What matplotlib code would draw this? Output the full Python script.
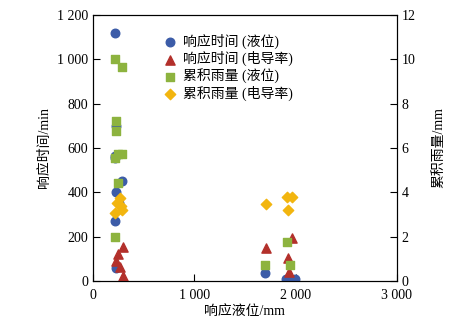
import matplotlib.pyplot as plt
from matplotlib.ticker import FuncFormatter

plt.rcParams['font.family'] = ['Liberation Serif', 'Noto Sans CJK SC']
plt.rcParams['font.size'] = 10

# 响应时间 (液位): 液位 mm, 时间 min
t_lw_x = [215, 225, 220, 215, 290, 225, 260, 215, 230, 1700, 1910, 1950, 1990]
t_lw_y = [1120, 700, 555, 565, 450, 400, 350, 270, 58, 36, 8, 6, 8]

# 响应时间 (电导率)
t_ec_x = [300, 250, 230, 270, 300, 1710, 1960, 1930, 1935]
t_ec_y = [153, 120, 90, 63, 22, 148, 194, 104, 40]

# 累积雨量 (液位): mm
r_lw_x = [220, 290, 230, 230, 220, 250, 290, 250, 220, 1700, 1920, 1950]
r_lw_y = [10.0, 9.65, 7.2, 6.75, 5.55, 5.75, 5.75, 4.4, 2.0, 0.7, 1.75, 0.7]

# 累积雨量 (电导率)
r_ec_x = [270, 240, 290, 220, 280, 1710, 1920, 1960, 1930]
r_ec_y = [3.75, 3.5, 3.2, 3.05, 3.4, 3.47, 3.78, 3.78, 3.2]

blue = '#3c5ca8'
red = '#b3302b'
green = '#8db33f'
yellow = '#f2b50f'

fig = plt.figure(figsize=(4.73, 3.31), dpi=100)
ax = fig.add_axes([0.1966, 0.151, 0.6424, 0.804])
ax2 = ax.twinx()

h1 = ax.scatter(t_lw_x, t_lw_y, s=38, marker='o', color=blue, label='响应时间 (液位)', zorder=3)
h2 = ax.scatter(t_ec_x, t_ec_y, s=44, marker='^', color=red, label='响应时间 (电导率)', zorder=3)
h3 = ax2.scatter(r_lw_x, r_lw_y, s=38, marker='s', color=green, label='累积雨量 (液位)', zorder=3)
h4 = ax2.scatter(r_ec_x, r_ec_y, s=28, marker='D', color=yellow, label='累积雨量 (电导率)', zorder=3)

fmt = FuncFormatter(lambda v, p: f'{int(v):,}'.replace(',', ' '))

ax.set_xlim(0, 3000)
ax.set_ylim(0, 1200)
ax.set_xticks([0, 1000, 2000, 3000])
ax.set_yticks(range(0, 1201, 200))
ax.xaxis.set_major_formatter(fmt)
ax.yaxis.set_major_formatter(fmt)
ax2.set_ylim(0, 12)
ax2.set_yticks(range(0, 13, 2))

ax.tick_params(direction='in', length=5, width=0.8)
ax.tick_params(axis='x', pad=6)
ax2.tick_params(direction='in', length=5, width=0.8)

ax.set_xlabel('响应液位/mm', labelpad=2)
ax.set_ylabel('响应时间/min')
ax2.set_ylabel('累积雨量/mm', labelpad=12)

ax.legend(handles=[h1, h2, h3, h4], loc='upper left', bbox_to_anchor=(0.2, 0.96),
          frameon=False, handletextpad=0.3, labelspacing=0.16, borderaxespad=0.2,
          handlelength=1.2, fontsize=10)

fig.savefig('out.png', dpi=100)
